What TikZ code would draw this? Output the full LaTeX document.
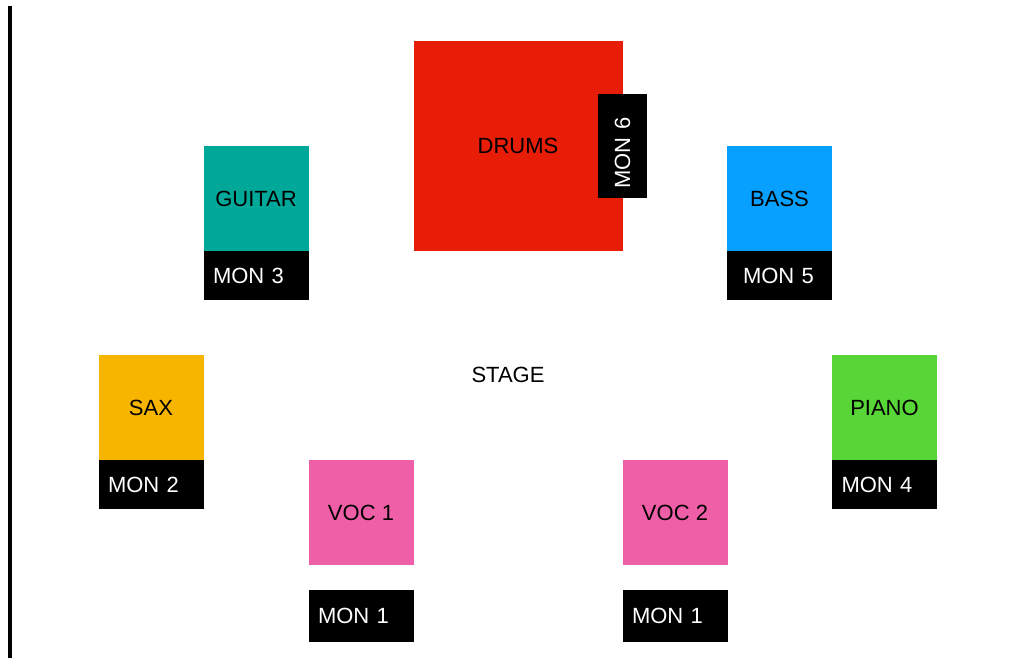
\documentclass[tikz,border=0pt]{standalone}
\usepackage{fontspec}
\setmainfont{Liberation Sans}
\usepackage{tikz}
\usetikzlibrary{positioning}

\definecolor{drumred}{RGB}{232,29,7}
\definecolor{guitarteal}{RGB}{0,168,154}
\definecolor{bassblue}{RGB}{8,160,255}
\definecolor{saxorange}{RGB}{248,181,0}
\definecolor{pianogreen}{RGB}{89,214,55}
\definecolor{vocpink}{RGB}{239,95,167}

\begin{document}
\begin{tikzpicture}[x=1pt, y=-1pt,
    font=\fontsize{22}{26}\selectfont,
    inst/.style={minimum width=105pt, minimum height=105pt, inner sep=0pt, outer sep=0pt},
    mon/.style={fill=black, text=white, minimum width=105pt, minimum height=49pt,
                text width=86pt, inner sep=0pt, inner xsep=9.5pt, outer sep=0pt, align=left}]
        \useasboundingbox (0,0) rectangle (1014,658);
        \draw[line width=4pt] (10,6) -- (10,658);

        \node (drums)[inst, fill=drumred, minimum width=209pt, minimum height=209pt] at (518,146) {DRUMS};
        \node (mon6)[mon, rotate=90, minimum width=104pt, text width=85pt] at (drums.east) {MON 6};

        \node (guitar)[inst, fill=guitarteal] at (256,198.5) {GUITAR};
        \node (mon3)[mon, below=0pt of guitar] {MON 3};
        \node (bass)[inst, fill=bassblue] at (779.5,198.5) {BASS};
        \node (mon5)[mon, inner xsep=16pt, text width=73pt, below=0pt of bass] {MON 5};

        \node (sax)[inst, fill=saxorange] at (151,407.5) {SAX};
        \node (mon2)[mon, below=0pt of sax] {MON 2};
        \node (piano)[inst, fill=pianogreen] at (884.5,407.5) {PIANO};
        \node (mon4)[mon, below=0pt of piano] {MON 4};

        \node (stage) at (508,375) {STAGE};

        \node (voc1)[inst, fill=vocpink] at (361,512.5) {VOC 1};
        \node (mon1a)[mon, minimum height=52pt, below=25pt of voc1] {MON 1};
        \node (voc2)[inst, fill=vocpink] at (675,512.5) {VOC 2};
        \node (mon1b)[mon, minimum height=52pt, below=25pt of voc2] {MON 1};
\end{tikzpicture}
\end{document}
